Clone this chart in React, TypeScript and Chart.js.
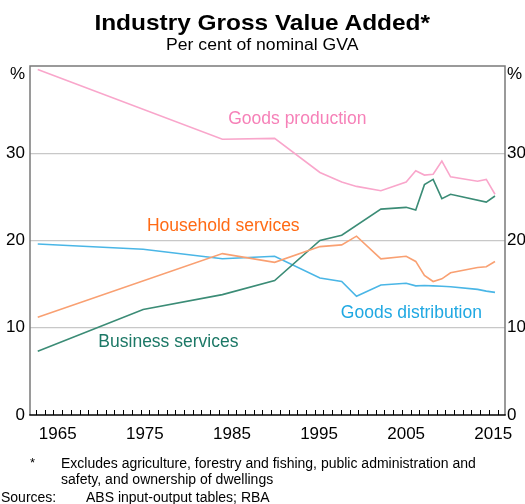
import React, { useEffect, useRef } from 'react';
import { Chart, registerables } from 'chart.js';

Chart.register(...registerables);

// ---- data ----
const YEARS = [1963.2, 1975.3, 1984.4, 1990.4, 1995.6, 1998.1, 1999.8, 2002.6, 2005.5, 2006.6, 2007.6, 2008.6, 2009.6, 2010.6, 2013.7, 2014.7, 2015.7];
const GOODS_PRODUCTION = [39.6, null, 31.6, 31.7, 27.8, 26.7, 26.2, 25.7, 26.7, 28.0, 27.5, 27.6, 29.1, 27.3, 26.8, 27.0, 25.3];
const BUSINESS_SERVICES = [7.3, 12.1, 13.8, 15.4, 20.0, 20.6, null, 23.6, 23.8, 23.5, 26.4, 27.0, 24.8, 25.3, null, 24.4, 25.1];
const HOUSEHOLD_SERVICES = [11.2, null, 18.5, 17.5, 19.3, 19.5, 20.5, 17.9, 18.2, 17.6, 16.0, 15.3, 15.6, 16.3, 16.9, 17.0, 17.6];
const GOODS_DISTRIBUTION = [19.6, 19.0, 17.9, 18.2, 15.7, 15.3, 13.6, 14.9, 15.1, 14.8, 14.85, 14.8, 14.75, 14.7, 14.4, 14.2, 14.05];

const X_TICK_LABELS = [1965, 1975, 1985, 1995, 2005, 2015];
const X_MINOR_TICKS_FROM = 1963;
const X_MINOR_TICKS_TO = 2016;
const Y_TICKS = [0, 10, 20, 30];
const Y_UNIT_AT = 39;

const SERIES = [
  { name: 'Goods production', values: GOODS_PRODUCTION, line: '#f9a6cb', text: '#f681b8', lx: 1993.0, ly: 33.9 },
  { name: 'Household services', values: HOUSEHOLD_SERVICES, line: '#f9a072', text: '#ff6a14', lx: 1984.5, ly: 21.6 },
  { name: 'Business services', values: BUSINESS_SERVICES, line: '#3b8c76', text: '#1c7866', lx: 1978.2, ly: 8.4 },
  { name: 'Goods distribution', values: GOODS_DISTRIBUTION, line: '#4ab6e6', text: '#1fa8e2', lx: 2006.1, ly: 11.7 },
];

const FONT = 'Arial, "Liberation Sans", Helvetica, sans-serif';

const framePlugin = {
  id: 'rbaFrame',
  afterDraw(chart: any) {
    const { ctx, chartArea: a, scales } = chart;
    const xs = scales.x;
    const ys = scales.y;
    ctx.save();
    // minor year ticks (inside, from bottom axis)
    ctx.strokeStyle = '#000';
    ctx.lineWidth = 1;
    ctx.beginPath();
    for (let yr = X_MINOR_TICKS_FROM; yr <= X_MINOR_TICKS_TO; yr++) {
      const px = Math.round(xs.getPixelForValue(yr)) + 0.5;
      ctx.moveTo(px, a.bottom);
      ctx.lineTo(px, a.bottom - 5);
    }
    ctx.stroke();
    // frame
    ctx.strokeStyle = '#7a7a7a';
    ctx.lineWidth = 1.5;
    ctx.beginPath();
    ctx.moveTo(a.left, a.bottom);
    ctx.lineTo(a.left, a.top);
    ctx.lineTo(a.right, a.top);
    ctx.lineTo(a.right, a.bottom);
    ctx.stroke();
    ctx.strokeStyle = '#000';
    ctx.lineWidth = 1.5;
    ctx.beginPath();
    ctx.moveTo(a.left - 0.75, a.bottom);
    ctx.lineTo(a.right + 0.75, a.bottom);
    ctx.stroke();
    // series labels
    ctx.font = `17.5px ${FONT}`;
    ctx.textAlign = 'center';
    ctx.textBaseline = 'middle';
    SERIES.forEach((s) => {
      ctx.fillStyle = s.text;
      ctx.fillText(s.name, xs.getPixelForValue(s.lx), ys.getPixelForValue(s.ly));
    });
    ctx.restore();
  },
};

export default function App() {
  const ref = useRef<HTMLCanvasElement>(null);

  useEffect(() => {
    const canvas = ref.current;
    if (!canvas) return;
    const mk = (vals: (number | null)[]) => YEARS.map((x, i) => ({ x, y: vals[i] }));
    const yTickFont = { family: FONT, size: 17 };
    const chart = new Chart(canvas, {
      type: 'line',
      data: {
        datasets: SERIES.map((s) => ({
          label: s.name,
          data: mk(s.values) as any,
          borderColor: s.line,
          backgroundColor: s.line,
          borderWidth: 1.6,
          pointRadius: 0,
          spanGaps: true,
          tension: 0,
          fill: false,
        })),
      },
      options: {
        responsive: false,
        animation: false,
        devicePixelRatio: 1,
        layout: { padding: { top: 66, left: 0, right: 0, bottom: 0 } },
        plugins: {
          legend: { display: false },
          tooltip: { enabled: false },
          title: { display: false },
        },
        scales: {
          x: {
            type: 'linear',
            min: 1962.31,
            max: 2016.85,
            afterBuildTicks: (s: any) => {
              s.ticks = X_TICK_LABELS.map((v) => ({ value: v + 0.5 }));
            },
            ticks: {
              callback: (v: any) => String(Math.floor(Number(v))),
              font: { family: FONT, size: 17 },
              color: '#000',
              padding: 9,
              maxRotation: 0,
              autoSkip: false,
            },
            grid: { display: false, drawTicks: false },
            border: { display: false },
            afterFit: (s: any) => {
              s.height = 89;
            },
          },
          y: {
            position: 'left',
            min: 0,
            max: 40,
            afterBuildTicks: (s: any) => {
              s.ticks = [...Y_TICKS, Y_UNIT_AT].map((v) => ({ value: v }));
            },
            ticks: {
              callback: (v: any) => (v === Y_UNIT_AT ? '%' : String(v)),
              font: yTickFont,
              color: '#000',
              padding: 5,
              autoSkip: false,
            },
            grid: {
              color: (c: any) =>
                c.tick && c.tick.value > 0 && c.tick.value < 35 ? '#c8c8c8' : 'rgba(0,0,0,0)',
              lineWidth: 1.2,
              drawTicks: false,
            },
            border: { display: false },
            afterFit: (s: any) => {
              s.width = 30;
            },
          },
          y2: {
            position: 'right',
            min: 0,
            max: 40,
            afterBuildTicks: (s: any) => {
              s.ticks = [...Y_TICKS, Y_UNIT_AT].map((v) => ({ value: v }));
            },
            ticks: {
              callback: (v: any) => (v === Y_UNIT_AT ? '%' : String(v)),
              font: yTickFont,
              color: '#000',
              padding: 2,
              autoSkip: false,
            },
            grid: { display: false, drawTicks: false },
            border: { display: false },
            afterFit: (s: any) => {
              s.width = 20;
            },
          },
        },
      } as any,
      plugins: [framePlugin],
    });
    return () => chart.destroy();
  }, []);

  const abs = (extra: React.CSSProperties): React.CSSProperties => ({
    position: 'absolute',
    fontFamily: FONT,
    color: '#000',
    whiteSpace: 'nowrap',
    ...extra,
  });

  return (
    <div style={{ position: 'absolute', left: 0, top: 0, width: 525, height: 504, background: '#fff', overflow: 'hidden' }}>
      <canvas ref={ref} width={525} height={504} style={{ position: 'absolute', left: 0, top: 0, width: 525, height: 504 }} />
      <div style={abs({ left: 0, width: 525, top: 12, fontSize: 22, lineHeight: '22px', fontWeight: 'bold', textAlign: 'center', transform: 'scaleX(1.11)', transformOrigin: '265px 50%' })}>
        Industry Gross Value Added*
      </div>
      <div style={abs({ left: 0, width: 525, top: 36.5, fontSize: 16, lineHeight: '16px', textAlign: 'center', transform: 'scaleX(1.1)', transformOrigin: '265px 50%' })}>
        Per cent of nominal GVA
      </div>
      <div style={abs({ left: 30, top: 456, fontSize: 13, lineHeight: '13px' })}>*</div>
      <div style={abs({ left: 61, top: 455, fontSize: 14, lineHeight: '16px' })}>
        Excludes agriculture, forestry and fishing, public administration and
        <br />
        safety, and ownership of dwellings
      </div>
      <div style={abs({ left: 1, top: 490, fontSize: 14, lineHeight: '14px' })}>Sources:</div>
      <div style={abs({ left: 86, top: 490, fontSize: 14, lineHeight: '14px' })}>ABS input-output tables; RBA</div>
    </div>
  );
}
